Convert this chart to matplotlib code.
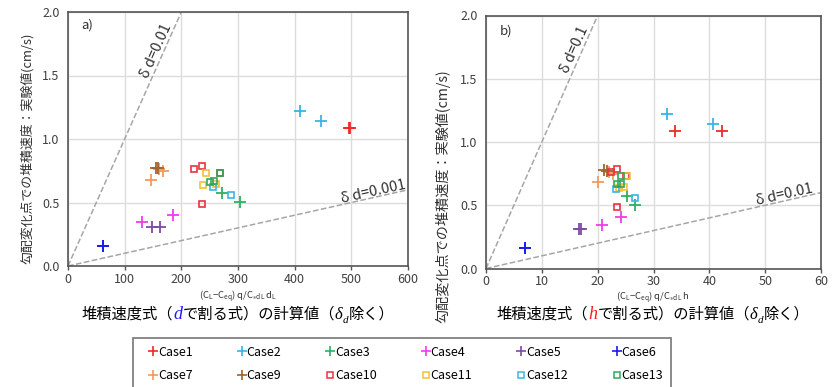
import matplotlib
matplotlib.use("Agg")
import matplotlib.pyplot as plt
from matplotlib.lines import Line2D

plt.rcParams["font.family"] = ["Noto Sans CJK JP", "DejaVu Sans"]
plt.rcParams["mathtext.default"] = "regular"

# ---- data -------------------------------------------------------------
case_names = ["Case1", "Case2", "Case3", "Case4", "Case5", "Case6",
              "Case7", "Case9", "Case10", "Case11", "Case12", "Case13"]
case_colors = ["#ee2a2a", "#38b4e6", "#2fb063", "#f03cf0", "#7d4aa6", "#1c1cf0",
               "#f39a5a", "#a0652e", "#e8333f", "#f2c03a", "#3cb6e0", "#2fa85e"]
case_markers = ["+", "+", "+", "+", "+", "+",
                "+", "+", "s", "s", "s", "s"]

# measured deposition rate at slope-change point (cm/s)
rate_measured = [
    [1.085, 1.085],
    [1.22, 1.14],
    [0.575, 0.505],
    [0.345, 0.405],
    [0.31, 0.31],
    [0.16, 0.16],
    [0.68, 0.75, 0.765],
    [0.775, 0.77],
    [0.76, 0.79, 0.49, 0.735],
    [0.735, 0.635, 0.645],
    [0.625, 0.56],
    [0.735, 0.665, 0.67],
]
# calculated value, divided by d
calc_d = [
    [495, 498],
    [409, 447],
    [272, 303],
    [131, 185],
    [148, 163],
    [61, 62],
    [146, 168, 160],
    [156, 158],
    [223, 237, 236, 268],
    [244, 238, 262],
    [256, 287],
    [268, 250, 258],
]
# calculated value, divided by h
calc_h = [
    [33.8, 42.2],
    [32.5, 40.6],
    [25.2, 26.7],
    [20.8, 24.2],
    [16.7, 17.0],
    [6.9, 7.0],
    [20.0, 22.8, 22.0],
    [21.2, 21.6],
    [22.4, 23.5, 23.5, 25.0],
    [25.3, 23.9, 24.8],
    [23.2, 26.7],
    [24.1, 23.4, 24.2],
]

xticks_a = [0, 100, 200, 300, 400, 500, 600]
xticks_b = [0, 10, 20, 30, 40, 50, 60]
yticks = [0.0, 0.5, 1.0, 1.5, 2.0]
delta_a = [0.01, 0.001]
delta_b = [0.1, 0.01]

W, H = 835, 387
fig = plt.figure(figsize=(W / 100, H / 100), dpi=100)

ax_a = fig.add_axes([68 / W, 1 - 266 / H, 340 / W, 254 / H])
ax_b = fig.add_axes([486 / W, 1 - 268.5 / H, 335 / W, 253 / H])

spine_col = "#555555"
tick_col = "#404040"


def style_axes(ax, xticks, xmax):
    ax.set_xlim(0, xmax)
    ax.set_ylim(0, 2.0)
    ax.set_xticks(xticks)
    ax.set_yticks(yticks)
    ax.set_xticklabels([str(v) for v in xticks])
    ax.set_yticklabels([f"{v:.1f}" for v in yticks])
    ax.grid(True, color="#dcdcdc", lw=1.0)
    ax.set_axisbelow(True)
    for s in ax.spines.values():
        s.set_color(spine_col)
        s.set_linewidth(1.2)
    ax.tick_params(axis="both", colors=spine_col, labelcolor=tick_col,
                   labelsize=9, length=3, width=1, direction="out")
    ax.tick_params(axis="x", pad=2)
    ax.tick_params(axis="y", length=0, pad=6)


def draw_cases(ax, xs_all):
    for name, col, mk, xs, ys in zip(case_names, case_colors, case_markers,
                                     xs_all, rate_measured):
        if mk == "+":
            ax.plot(xs, ys, ls="none", marker="+", ms=9, mew=1.3, color=col,
                    zorder=3)
        else:
            ax.plot(xs, ys, ls="none", marker="s", ms=5, mew=1.2, mfc="none",
                    mec=col, zorder=3)


def draw_delta(ax, deltas, xmax):
    for d in deltas:
        xe = min(xmax, 2.0 / d)
        ax.plot([0, xe], [0, d * xe], ls="--", color="#a6a6a6", lw=1.1,
                zorder=2)


style_axes(ax_a, xticks_a, 600)
style_axes(ax_b, xticks_b, 60)
draw_delta(ax_a, delta_a, 600)
draw_delta(ax_b, delta_b, 60)
draw_cases(ax_a, calc_d)
draw_cases(ax_b, calc_h)

line_txt = dict(fontsize=10.5, color="#303030", ha="center", va="center",
                rotation_mode="anchor")
ax_a.text(156, 1.69, "δ d=0.01", rotation=66, **line_txt)
ax_a.text(539, 0.585, "δ d=0.001", rotation=12.6, **line_txt)
ax_b.text(15.8, 1.73, "δ d=0.1", rotation=66, **line_txt)
ax_b.text(53.4, 0.585, "δ d=0.01", rotation=12.6, **line_txt)

ax_a.text(0.04, 0.935, "a)", transform=ax_a.transAxes, fontsize=9.5,
          color="#303030")
ax_b.text(0.04, 0.925, "b)", transform=ax_b.transAxes, fontsize=9.5,
          color="#303030")

ylab = "勾配変化点での堆積速度：実験値(cm/s)"
fig.text(27 / W, 1 - 148 / H, ylab, rotation=90, ha="center", va="center",
         fontsize=9.3, color="#303030")
fig.text(443 / W, 1 - 196 / H, ylab, rotation=90, ha="center", va="center",
         fontsize=10.2, color="#303030")

fig.text(238 / W, 1 - 297 / H, r"(C$_L$−C$_{eq}$) q/C$_{\ast dL}$ d$_L$",
         ha="center", va="center", fontsize=6.8, color="#303030")
fig.text(653 / W, 1 - 298 / H, r"(C$_L$−C$_{eq}$) q/C$_{\ast dL}$ h",
         ha="center", va="center", fontsize=6.8, color="#303030")


def rich_label(xc_px, ybase_px, var, var_col):
    size = 11
    serif = "Liberation Serif"
    pieces = [
        ("堆積速度式（", dict(color="black"), 0),
        (var, dict(color=var_col, family=serif, style="italic",
                   fontsize=size + 2), 0),
        ("で割る式）の計算値（", dict(color="black"), 0),
        ("δ", dict(color="black", family=serif, style="italic",
                   fontsize=size + 1), 0),
        ("d", dict(color="black", family=serif, style="italic",
                   fontsize=size - 3), -4),
        ("除く）", dict(color="black"), 0),
    ]
    texts = []
    for s, kw, dy in pieces:
        kw = dict(kw)
        kw.setdefault("fontsize", size)
        t = fig.text(0, 0, s, ha="left", va="baseline", **kw)
        texts.append((t, dy))
    fig.canvas.draw()
    r = fig.canvas.get_renderer()
    widths = [t.get_window_extent(r).width for t, _ in texts]
    x = xc_px - sum(widths) / 2
    for (t, dy), w in zip(texts, widths):
        t.set_position((x / W, 1 - (ybase_px - dy) / H))
        x += w


rich_label(238, 319, "d", "#1a1aff")
rich_label(653, 319, "h", "#ff1a1a")

# legend, filled row by row
handles = []
for name, col, mk in zip(case_names, case_colors, case_markers):
    if mk == "+":
        h = Line2D([], [], ls="none", marker="+", ms=7, mew=1.2, color=col,
                   label=name)
    else:
        h = Line2D([], [], ls="none", marker="s", ms=4.5, mew=1.1,
                   mfc="none", mec=col, label=name)
    handles.append(h)
order = []
for c in range(6):
    order += [c, c + 6]
leg = fig.legend([handles[i] for i in order], [case_names[i] for i in order],
                 ncol=6, loc="upper left",
                 bbox_to_anchor=(133 / W, 1 - 338 / H), frameon=True,
                 fancybox=False, edgecolor="#555555", fontsize=9,
                 handlelength=2.0, handletextpad=-0.6, columnspacing=2.9,
                 borderpad=0.6, labelspacing=0.85, borderaxespad=0)
leg.get_frame().set_linewidth(1.2)

fig.savefig("out.png", dpi=100)
